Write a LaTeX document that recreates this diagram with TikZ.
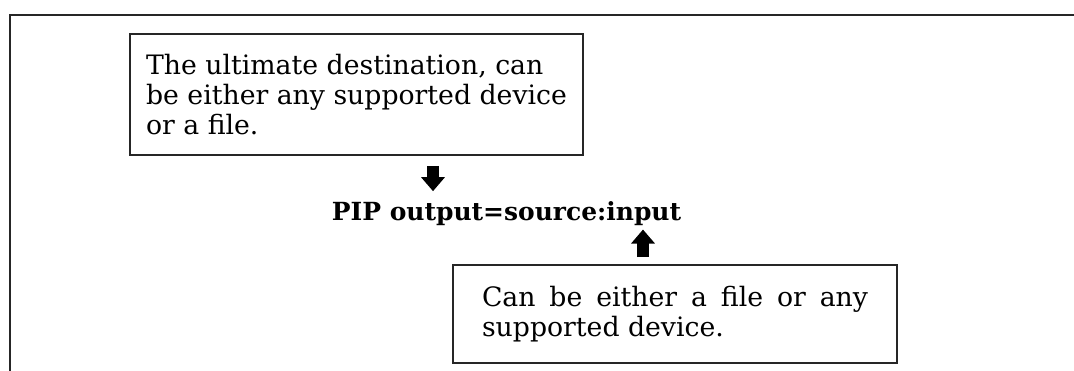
\documentclass[tikz,border=0pt]{standalone}
\usepackage{fontspec}
\setmainfont{DejaVu Serif}
\usetikzlibrary{arrows.meta}
\hyphenpenalty=10000
\exhyphenpenalty=10000

\begin{document}
\begin{tikzpicture}[font=\fontsize{15.2pt}{17.3pt}\selectfont]
        \tikzset{
            remark/.style={
                draw=black!85,
                line width=1pt,
                align=left,
                minimum width=9.06cm,
                minimum height=2.42cm
            },
            remarkjust/.style={
                remark,
                align=justify,
                text width=7.72cm,
                inner xsep=0.48cm,
                minimum width=8.88cm,
                minimum height=1.96cm
            },
            command/.style={
                font=\fontsize{14.2pt}{17pt}\selectfont\bfseries,
                inner sep=0pt,
                anchor=base
            },
            pointer/.style={
                -{Triangle[length=0.28cm,width=0.46cm]},
                line width=6.5pt
            },
            frameline/.style={line width=1.1pt, draw=black!85}
        }

        \useasboundingbox (0,0) rectangle (21.48,-7.42);
        \draw[frameline] (21.48,-0.3) -- (0.2,-0.3) -- (0.2,-7.42);

        \node[remark] (dest) at (7.13,-1.89)
            {The ultimate destination, can\\be either any supported device\\or a file.};
        \node[command] (cmd) at (10.13,-4.40) {PIP output=source:input};
        \node[remarkjust] (src) at (13.50,-6.28)
            {Can be either a file or any supported device.};

        \coordinate (downx) at (8.66,0);
        \coordinate (upx) at (12.86,0);
        \draw[pointer, shorten <=0.2cm, shorten >=0.19cm] (dest.south -| downx) -- (cmd.north -| downx);
        \draw[pointer, shorten <=0.14cm, shorten >=0.08cm] (src.north -| upx) -- (cmd.south -| upx);
    \end{tikzpicture}
\end{document}
